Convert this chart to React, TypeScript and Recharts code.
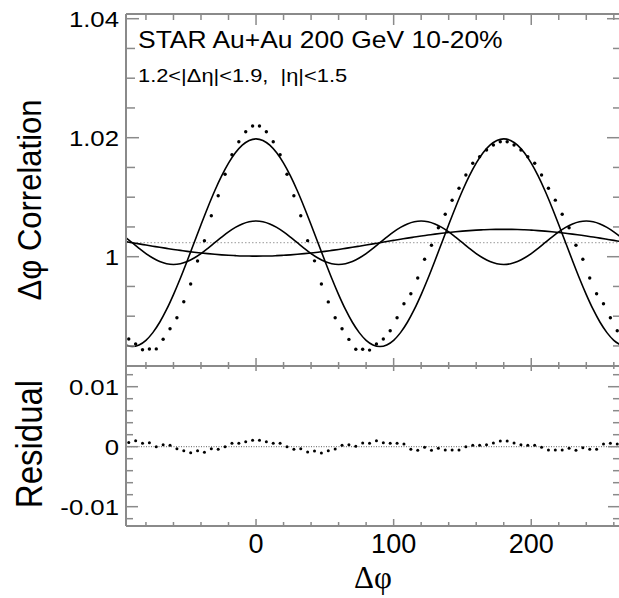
import React from 'react';
import { ComposedChart, Line, Scatter, XAxis, YAxis, ReferenceLine } from 'recharts';

// fit curves, sampled every 5 deg
const phiGrid = [
  -95, -90, -85, -80, -75, -70, -65, -60, -55, -50, -45, -40, -35, -30, -25, -20, -15, -10, -5, 0,
  5, 10, 15, 20, 25, 30, 35, 40, 45, 50, 55, 60, 65, 70, 75, 80, 85, 90,
  95, 100, 105, 110, 115, 120, 125, 130, 135, 140, 145, 150, 155, 160, 165, 170, 175, 180,
  185, 190, 195, 200, 205, 210, 215, 220, 225, 230, 235, 240, 245, 250, 255, 260, 265,
];

const fitV2 = [
  0.98517, 0.9849, 0.98517, 0.98595, 0.98724, 0.98898, 0.99113, 0.99363, 0.99638, 0.99932, 1.00235, 1.00538, 1.00832, 1.01108, 1.01357, 1.01572, 1.01746, 1.01875, 1.01953, 1.0198,
  1.01953, 1.01875, 1.01746, 1.01572, 1.01357, 1.01108, 1.00832, 1.00538, 1.00235, 0.99932, 0.99638, 0.99363, 0.99113, 0.98898, 0.98724, 0.98595, 0.98517, 0.9849,
  0.98517, 0.98595, 0.98724, 0.98898, 0.99113, 0.99363, 0.99638, 0.99932, 1.00235, 1.00538, 1.00832, 1.01108, 1.01357, 1.01572, 1.01746, 1.01875, 1.01953, 1.0198,
  1.01953, 1.01875, 1.01746, 1.01572, 1.01357, 1.01108, 1.00832, 1.00538, 1.00235, 0.99932, 0.99638, 0.99363, 0.99113, 0.98898, 0.98724, 0.98595, 0.98517,
];

const fitV3 = [
  1.00329, 1.00235, 1.00141, 1.00052, 0.99977, 0.99919, 0.99882, 0.9987, 0.99882, 0.99919, 0.99977, 1.00052, 1.00141, 1.00235, 1.00329, 1.00418, 1.00493, 1.00551, 1.00588, 1.006,
  1.00588, 1.00551, 1.00493, 1.00418, 1.00329, 1.00235, 1.00141, 1.00052, 0.99977, 0.99919, 0.99882, 0.9987, 0.99882, 0.99919, 0.99977, 1.00052, 1.00141, 1.00235,
  1.00329, 1.00418, 1.00493, 1.00551, 1.00588, 1.006, 1.00588, 1.00551, 1.00493, 1.00418, 1.00329, 1.00235, 1.00141, 1.00052, 0.99977, 0.99919, 0.99882, 0.9987,
  0.99882, 0.99919, 0.99977, 1.00052, 1.00141, 1.00235, 1.00329, 1.00418, 1.00493, 1.00551, 1.00588, 1.006, 1.00588, 1.00551, 1.00493, 1.00418, 1.00329,
];

const fitV1 = [
  1.00255, 1.00235, 1.00215, 1.00196, 1.00177, 1.00158, 1.0014, 1.00122, 1.00106, 1.0009, 1.00076, 1.00063, 1.00051, 1.0004, 1.00031, 1.00024, 1.00018, 1.00013, 1.00011, 1.0001,
  1.00011, 1.00013, 1.00018, 1.00024, 1.00031, 1.0004, 1.00051, 1.00063, 1.00076, 1.0009, 1.00106, 1.00122, 1.0014, 1.00158, 1.00177, 1.00196, 1.00215, 1.00235,
  1.00255, 1.00274, 1.00293, 1.00312, 1.0033, 1.00348, 1.00364, 1.0038, 1.00394, 1.00407, 1.00419, 1.0043, 1.00439, 1.00446, 1.00452, 1.00457, 1.00459, 1.0046,
  1.00459, 1.00457, 1.00452, 1.00446, 1.00439, 1.0043, 1.00419, 1.00407, 1.00394, 1.0038, 1.00364, 1.00348, 1.0033, 1.00312, 1.00293, 1.00274, 1.00255,
];

// data points (bin centres)
const binPhi = [
  -92.5, -87.5, -82.5, -77.5, -72.5, -67.5, -62.5, -57.5, -52.5, -47.5, -42.5, -37.5, -32.5, -27.5, -22.5, -17.5, -12.5, -7.5, -2.5,
  2.5, 7.5, 12.5, 17.5, 22.5, 27.5, 32.5, 37.5, 42.5, 47.5, 52.5, 57.5, 62.5, 67.5, 72.5, 77.5, 82.5, 87.5,
  92.5, 97.5, 102.5, 107.5, 112.5, 117.5, 122.5, 127.5, 132.5, 137.5, 142.5, 147.5, 152.5, 157.5, 162.5, 167.5, 172.5, 177.5,
  182.5, 187.5, 192.5, 197.5, 202.5, 207.5, 212.5, 217.5, 222.5, 227.5, 232.5, 237.5, 242.5, 247.5, 252.5, 257.5, 262.5,
];

const corrValues = [
  0.98617, 0.98533, 0.98437, 0.98449, 0.9845, 0.98612, 0.9879, 0.98975, 0.99244, 0.99541, 0.99928, 1.00269, 1.00689, 1.01025, 1.01385, 1.01714, 1.01933, 1.02101, 1.02197,
  1.02197, 1.021, 1.01933, 1.01714, 1.01385, 1.01025, 1.00689, 1.0027, 0.9993, 0.9954, 0.9924, 0.98975, 0.9879, 0.9861, 0.98444, 0.98444, 0.9843, 0.98533,
  0.98617, 0.98756, 0.98975, 0.9921, 0.99378, 0.99642, 0.99956, 1.00192, 1.00487, 1.00713, 1.00948, 1.0115, 1.01373, 1.0157, 1.01681, 1.01793, 1.01877, 1.01933,
  1.01933, 1.01877, 1.01793, 1.01681, 1.0157, 1.01373, 1.0115, 1.0095, 1.00713, 1.00487, 1.00192, 0.99956, 0.99642, 0.99378, 0.9921, 0.98975, 0.98756,
];

const residValues = [
  0.0007, 0.001, 0.00056, 0.00067, 0.0, 0.00033, 0.00022, -0.00033, -0.00067, -0.001, -0.00067, -0.00094, -0.00033, -0.00044, 0.0, 0.00056, 0.00056, 0.00083, 0.00106,
  0.00106, 0.00083, 0.00056, 0.00056, 0.0, -0.00044, -0.00033, -0.0009, -0.0007, -0.00105, -0.00067, -0.00039, 0.00022, 0.00033, 0.00006, 0.00061, 0.00056, 0.001,
  0.00067, 0.00056, 0.00056, 0.00044, -0.00044, -0.0006, -0.0001, -0.0006, -0.00028, -0.00055, -0.00055, -0.00055, 0.0, 0.00022, 0.00022, 0.00033, 0.00061, 0.00095,
  0.00095, 0.00061, 0.00033, 0.00022, 0.00022, -0.0001, -0.00055, -0.00055, -0.00055, -0.00028, -0.0006, -0.00017, -0.00044, -0.00044, 0.00044, 0.00056, 0.00044,
];

const baseline = 1.00235;

const phiTicks = [-80, -60, -40, -20, 0, 20, 40, 60, 80, 100, 120, 140, 160, 180, 200, 220, 240, 260];
const phiLabels = [0, 100, 200];
const corrTicks = [0.985, 0.99, 0.995, 1, 1.005, 1.01, 1.015, 1.02, 1.025, 1.03, 1.035, 1.04];
const corrLabels = [1, 1.02, 1.04];
const residTicks = [-0.012, -0.01, -0.008, -0.006, -0.004, -0.002, 0, 0.002, 0.004, 0.006, 0.008, 0.01, 0.012];
const residLabels = [-0.01, 0, 0.01];

const PHI_DOMAIN: [number, number] = [-94.5, 264.5];
const CORR_DOMAIN: [number, number] = [0.98163, 1.04079];
const RESID_DOMAIN: [number, number] = [-0.01322, 0.01345];

const AXIS = '#8a8a8a';
const SANS = '"Liberation Sans", Arial, Helvetica, sans-serif';
const SERIF = '"Liberation Serif", "Times New Roman", serif';

const curveRows = phiGrid.map((phi, i) => ({ phi, v1: fitV1[i], v2: fitV2[i], v3: fitV3[i] }));
const dotRows = binPhi.map((phi, i) => ({ phi, corr: corrValues[i] }));
const residRows = binPhi.map((phi, i) => ({ phi, resid: residValues[i] }));

const isMajor = (v: number, majors: number[]) => majors.some((m) => Math.abs(m - v) < 1e-9);

function xTick(dir: number, major: number, minor: number, withLabel = false) {
  return (props: any) => {
    const { x, y, payload } = props;
    const big = isMajor(payload.value, phiLabels);
    return (
      <g>
        <line x1={x} x2={x} y1={y} y2={y + dir * (big ? major : minor)} stroke={AXIS} strokeWidth={1.5} />
        {withLabel && big && (
          <text x={x} y={y + 27} textAnchor="middle" fontSize={27} fontFamily={SANS} fill="#000">
            {payload.value}
          </text>
        )}
      </g>
    );
  };
}

function yTick(dir: number, major: number, minor: number, majors: number[], withLabel = false) {
  return (props: any) => {
    const { x, y, payload } = props;
    const big = isMajor(payload.value, majors);
    return (
      <g>
        <line x1={x} x2={x + dir * (big ? major : minor)} y1={y} y2={y} stroke={AXIS} strokeWidth={1.5} />
        {withLabel && big && (
          <text
            transform={`translate(${x - 7},${y + 8}) scale(1.12,1)`}
            textAnchor="end"
            fontSize={23}
            fontFamily={SANS}
            fill="#000"
          >
            {String(payload.value)}
          </text>
        )}
      </g>
    );
  };
}

function sideTitle(text: string, size: number, dy: number) {
  return (props: any) => {
    const vb = props.viewBox || {};
    const cx = 30;
    const cy = vb.y + vb.height / 2 + dy;
    return (
      <text
        transform={`translate(${cx + size * 0.36},${cy}) scale(1.1,1) rotate(-90)`}
        textAnchor="middle"
        fontSize={size}
        fontFamily={SANS}
        fill="#000"
      >
        {text}
      </text>
    );
  };
}

const phiTitle = (props: any) => {
  const vb = props.viewBox || {};
  return (
    <text x={vb.x + vb.width / 2} y={vb.y + 62} textAnchor="middle" fontSize={31} fontFamily={SERIF} fill="#000">
      Δφ
    </text>
  );
};

const dotShape = (r: number) => (props: any) => <circle cx={props.cx} cy={props.cy} r={r} fill="#000" />;

const axisLine = { stroke: AXIS, strokeWidth: 2 };

export default function App() {
  return (
    <div style={{ position: 'absolute', left: 0, top: 0, width: 619, height: 598, overflow: 'hidden', background: '#fff' }}>
      <div style={{ position: 'absolute', left: 0, top: 0 }}>
        <ComposedChart width={640} height={380} data={curveRows} margin={{ top: 0, right: 0, bottom: 0, left: 0 }}>
          <XAxis
            xAxisId="top"
            orientation="top"
            dataKey="phi"
            type="number"
            domain={PHI_DOMAIN}
            allowDataOverflow
            ticks={phiTicks}
            interval={0}
            height={14}
            tickSize={0}
            tickMargin={0}
            tickLine={false}
            axisLine={axisLine}
            tick={xTick(1, 11, 6)}
          />
          <XAxis
            dataKey="phi"
            type="number"
            domain={PHI_DOMAIN}
            allowDataOverflow
            ticks={phiTicks}
            interval={0}
            height={14}
            tickSize={0}
            tickMargin={0}
            tickLine={false}
            axisLine={axisLine}
            tick={xTick(-1, 8, 4)}
          />
          <YAxis
            type="number"
            domain={CORR_DOMAIN}
            allowDataOverflow
            ticks={corrTicks}
            interval={0}
            width={126}
            tickSize={0}
            tickMargin={0}
            tickLine={false}
            axisLine={axisLine}
            tick={yTick(1, 13, 9, corrLabels, true)}
            label={sideTitle('Δφ Correlation', 31, 10)}
          />
          <YAxis
            yAxisId="right"
            orientation="right"
            type="number"
            domain={CORR_DOMAIN}
            allowDataOverflow
            ticks={corrTicks}
            interval={0}
            width={20}
            tickSize={0}
            tickMargin={0}
            tickLine={false}
            axisLine={axisLine}
            tick={yTick(-1, 13, 7, corrLabels)}
          />
          <ReferenceLine y={baseline} stroke="#999" strokeDasharray="1.5 2" strokeWidth={1} />
          <Line dataKey="v1" type="monotone" stroke="#000" strokeWidth={1.6} dot={false} isAnimationActive={false} />
          <Line dataKey="v3" type="monotone" stroke="#000" strokeWidth={1.6} dot={false} isAnimationActive={false} />
          <Line dataKey="v2" type="monotone" stroke="#000" strokeWidth={1.6} dot={false} isAnimationActive={false} />
          <Scatter data={dotRows} dataKey="corr" shape={dotShape(1.7)} isAnimationActive={false} />
        </ComposedChart>
      </div>
      <div style={{ position: 'absolute', left: 0, top: 352 }}>
        <ComposedChart width={640} height={246} data={residRows} margin={{ top: 0, right: 0, bottom: 0, left: 0 }}>
          <XAxis
            xAxisId="top"
            orientation="top"
            dataKey="phi"
            type="number"
            domain={PHI_DOMAIN}
            allowDataOverflow
            ticks={phiTicks}
            interval={0}
            height={14}
            tickSize={0}
            tickMargin={0}
            tickLine={false}
            axisLine={axisLine}
            tick={xTick(1, 5, 3)}
          />
          <XAxis
            dataKey="phi"
            type="number"
            domain={PHI_DOMAIN}
            allowDataOverflow
            ticks={phiTicks}
            interval={0}
            height={72}
            tickSize={0}
            tickMargin={0}
            tickLine={false}
            axisLine={axisLine}
            tick={xTick(-1, 7, 4, true)}
            label={phiTitle}
          />
          <YAxis
            type="number"
            domain={RESID_DOMAIN}
            allowDataOverflow
            ticks={residTicks}
            interval={0}
            width={126}
            tickSize={0}
            tickMargin={0}
            tickLine={false}
            axisLine={axisLine}
            tick={yTick(1, 12, 7, residLabels, true)}
            label={sideTitle('Residual', 33, -2)}
          />
          <YAxis
            yAxisId="right"
            orientation="right"
            type="number"
            domain={RESID_DOMAIN}
            allowDataOverflow
            ticks={residTicks}
            interval={0}
            width={20}
            tickSize={0}
            tickMargin={0}
            tickLine={false}
            axisLine={axisLine}
            tick={yTick(-1, 12, 7, residLabels)}
          />
          <ReferenceLine y={0} stroke="#333" strokeDasharray="1 1.5" strokeWidth={0.8} />
          <Scatter data={residRows} dataKey="resid" shape={dotShape(1.5)} isAnimationActive={false} />
        </ComposedChart>
      </div>
      <svg width={619} height={598} style={{ position: 'absolute', left: 0, top: 0, pointerEvents: 'none' }}>
        <text transform="translate(138,48) scale(1.15,1)" fontSize={23} fontFamily={SANS} fill="#000">
          STAR Au+Au 200 GeV 10-20%
        </text>
        <text
          transform="translate(138,82) scale(1.15,1)"
          fontSize={19}
          fontFamily={SANS}
          fill="#000"
          xmlSpace="preserve"
        >
          {'1.2<|Δη|<1.9,\u00A0\u00A0|η|<1.5'}
        </text>
      </svg>
    </div>
  );
}
